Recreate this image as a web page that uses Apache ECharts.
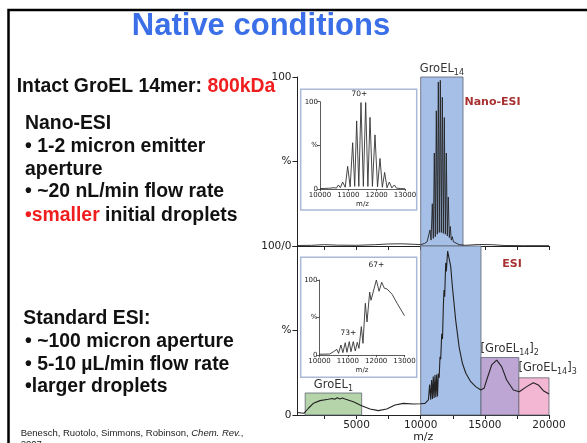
<!DOCTYPE html>
<html><head><meta charset="utf-8">
<script src="https://cdn.jsdelivr.net/npm/echarts@6/dist/echarts.min.js"></script>
<style>html,body{margin:0;padding:0;background:#fff}#c{width:587px;height:443px}</style>
</head><body><div id="c"></div>
<script>
// ---------- data (m/z, relative intensity %) ----------
const mzRange = [400, 20000];
const mainTickValues = [2500, 5000, 7500, 10000, 12500, 15000, 17500, 20000];
const mainLabelValues = [5000, 10000, 15000, 20000];
const insetRange = [10000, 13000];

const nanoMain = [
  [400,0.3],[1500,0.4],[2500,0.8],[3500,0.5],[5000,0.4],[6500,0.8],[7500,1.2],[8500,1.3],[9500,1.0],
  [10000,0.8],[10300,1.5],[10500,2.5],[10570,3],[10650,2.5],[10725,9.5],[10810,3.5],[10906,25],[10985,4.5],
  [11062,55],[11140,5.5],[11218,80],[11296,7],[11374,97],[11452,8],[11530,98],[11608,8],[11686,88],
  [11764,7.5],[11842,76],[11920,7],[11998,55],[12075,6],[12150,29],[12230,5],[12307,11.6],[12385,3.5],
  [12463,5.5],[12550,2.5],[12700,1.5],[13000,0.8],[13500,0.4],[14500,0.9],[15500,0.8],[16500,0.3],
  [18000,0.2],[20000,0.2]
];

const esiMain = [
  [400,1.5],[700,1.2],[900,1.0],[1250,4],[1650,7],[2150,8.5],[2800,9.3],[3100,9.8],[3300,9.3],[3500,10.2],
  [3700,9.5],[3900,10],[4100,9.5],[4750,7.9],[5400,5.5],[6050,3.6],[6700,2.6],[7350,3.6],[8000,5.9],
  [8650,6.9],[9430,6.5],[10000,6.7],[10335,6.9],[10600,8.9],[10700,18],[10780,9],[10850,20.7],[10920,9.5],
  [10980,22.7],[11050,10],[11115,23.7],[11180,10.5],[11245,24],[11310,11],[11375,24.6],[11440,22],
  [11505,34.5],[11560,33],[11640,48],[11700,45],[11765,64],[11816,74],[11870,70],[11950,90],[12000,85],
  [12100,97],[12150,95],[12200,96],[12340,87.8],[12470,76],[12730,56],[13000,40],[13250,30.6],[13520,24.7],
  [13900,19.7],[14290,16.8],[14680,14.8],[14940,15.8],[15143,20.7],[15532,29.6],[15922,32.5],[16312,28.6],
  [16701,20.7],[17221,14.8],[17688,13.8],[18260,16.8],[18779,19.1],[19169,17.8],[19558,14.4],[20000,12.4]
];

const nanoInset = [
  [10000,0.5],[10300,0.8],[10500,1.5],[10580,1],[10647,4.6],[10720,1.5],[10800,8],[10890,2],[10976,26],
  [11065,2.5],[11153,53],[11225,3],[11294,78],[11370,3],[11447,99],[11530,3],[11612,99],[11690,3],
  [11765,82],[11850,3],[11941,62],[12030,2.5],[12118,35],[12200,2],[12282,19],[12365,1.5],[12447,8],
  [12535,1.2],[12624,4.6],[12700,1],[12850,0.5],[13000,0.3]
];

const esiInset = [
  [10000,1],[10354,1.3],[10496,4.4],[10614,7.5],[10673,2.2],[10756,13.3],[10826,3.1],[10909,16.4],
  [10968,3.6],[11051,17.8],[11110,4.4],[11192,17.8],[11263,5.3],[11334,16.9],[11393,8.9],[11476,37.8],
  [11535,15.6],[11617,69],[11677,44],[11771,84],[11818,73],[12007,100],[12102,85],[12196,97],[12290,89],
  [12385,88],[12562,81],[12739,69],[12880,60],[13000,52.4]
];

// shaded regions: [m/z start, m/z end, top %]
const groel14TopRegion = [10000, 13300, 100];
const groel14Region = [10000, 14700, 100];
const groel1Region = [1000, 5400, 13];
const dimerRegion = [14700, 17650, 34];
const trimerRegion = [17650, 20000, 22];

// charge-state annotations: [label, m/z, %]
const nanoChargeLabels = [['70+', 11389, 100]];
const esiChargeLabels = [['67+', 12007, 100], ['73+', 11020, 18]];

// ---------- styling ----------
const ink = '#222';
const chartFont = 'DejaVu Sans';
const slideFont = 'Liberation Sans, Arial, sans-serif';
const subRich = {
  n: {fontSize: 11.5, fontFamily: chartFont, color: '#333', lineHeight: 16},
  s: {fontSize: 8, fontFamily: chartFont, color: '#333', lineHeight: 8, padding: [8, 0, 0, 0]}
};
const plain = v => String(v);

function area(r, color, label) {
  const first = {xAxis: r[0], yAxis: 0, itemStyle: {color: color, borderColor: '#5e6672', borderWidth: 0.8}};
  first.label = label ? label : {show: false};
  return [first, {xAxis: r[1], yAxis: r[2]}];
}
function subLabel(text, pos, dist) {
  const l = {show: true, formatter: text, rich: subRich};
  if (Array.isArray(pos)) { l.position = pos; l.align = 'left'; l.verticalAlign = 'top'; }
  else { l.position = pos; l.distance = dist; }
  return l;
}

function mainX(gi, showLabels) {
  return {
    type: 'value', gridIndex: gi, min: mzRange[0], max: mzRange[1],
    axisLine: {show: true, onZero: false, lineStyle: {color: ink, width: 1}},
    axisTick: {show: true, length: 4, customValues: mainTickValues, lineStyle: {color: ink}},
    axisLabel: {show: showLabels, customValues: mainLabelValues, color: ink, fontSize: 10.5, margin: 5,
      fontFamily: chartFont, formatter: plain},
    splitLine: {show: false},
    name: showLabels ? 'm/z' : '', nameLocation: 'middle', nameGap: 15,
    nameTextStyle: {color: ink, fontSize: 11, fontFamily: chartFont}
  };
}
function mainY(gi, labels) {
  return {
    type: 'value', gridIndex: gi, min: 0, max: 100, interval: 50,
    axisLine: {show: true, lineStyle: {color: ink, width: 1}},
    axisTick: {show: true, length: 5, lineStyle: {color: ink}},
    axisLabel: {color: ink, fontSize: 10.5, margin: 6, fontFamily: chartFont,
      formatter: v => labels[v / 50]},
    splitLine: {show: false}
  };
}
function insetX(gi) {
  return {
    type: 'value', gridIndex: gi, min: insetRange[0], max: insetRange[1], interval: 1000,
    axisLine: {show: true, onZero: false, lineStyle: {color: '#333', width: 0.8}},
    axisTick: {show: true, length: 2, lineStyle: {color: '#333', width: 0.8}},
    axisLabel: {color: ink, fontSize: 7, margin: 3, fontFamily: chartFont, formatter: plain},
    splitLine: {show: false},
    name: 'm/z', nameLocation: 'middle', nameGap: 12,
    nameTextStyle: {color: ink, fontSize: 7, fontFamily: chartFont}
  };
}
function insetY(gi) {
  return {
    type: 'value', gridIndex: gi, min: 0, max: 100, interval: 50,
    axisLine: {show: true, lineStyle: {color: '#333', width: 0.8}},
    axisTick: {show: true, length: 3, lineStyle: {color: '#333', width: 0.8}},
    axisLabel: {color: ink, fontSize: 7, margin: 2, fontFamily: chartFont,
      formatter: v => ['0', '%', '100'][v / 50]},
    splitLine: {show: false}
  };
}
function chargeMarks(list, dists) {
  return {
    symbol: 'circle', symbolSize: 0, silent: true,
    data: list.map((c, i) => ({coord: [c[1], c[2]], value: c[0],
      label: {show: true, formatter: c[0], position: 'top', distance: dists[i],
        color: ink, fontSize: 7.5, fontFamily: chartFont}}))
  };
}

function textEl(x, y, rich, text, align) {
  return {type: 'text', x: x, y: y, z: 10,
    style: {text: text, rich: rich, align: align || 'left', verticalAlign: 'middle'}};
}
const body = {fontSize: 19.4, fontWeight: 'bold', fontFamily: slideFont, fill: '#111'};
const red = {fontSize: 19.4, fontWeight: 'bold', fontFamily: slideFont, fill: '#f01e1e'};
const bodyRich = {k: body, r: red};
const citeRich = {
  k: {fontSize: 9.5, fontFamily: slideFont, fill: '#222'},
  i: {fontSize: 9.5, fontFamily: slideFont, fontStyle: 'italic', fill: '#222'}
};

const option = {
  animation: false,
  backgroundColor: '#fff',
  textStyle: {fontFamily: chartFont},
  grid: [
    {left: 297.5, top: 77, width: 251.5, height: 169, outerBoundsMode: 'none'},
    {left: 297.5, top: 246, width: 251.5, height: 169, outerBoundsMode: 'none'},
    {left: 320, top: 101.7, width: 85, height: 87.3, outerBoundsMode: 'none'},
    {left: 319.5, top: 280, width: 85, height: 75, outerBoundsMode: 'none'}
  ],
  xAxis: [mainX(0, false), mainX(1, true), insetX(2), insetX(3)],
  yAxis: [mainY(0, ['100/0', '%', '100']), mainY(1, ['0', '%', '']), insetY(2), insetY(3)],
  series: [
    {type: 'line', xAxisIndex: 0, yAxisIndex: 0, data: nanoMain, showSymbol: false, z: 3,
      lineStyle: {color: ink, width: 0.9},
      markArea: {silent: true, z: 1, data: [
        area(groel14TopRegion, '#a6bfe6', subLabel('{n|GroEL}{s|14}', 'top', 0))
      ]}},
    {type: 'line', xAxisIndex: 1, yAxisIndex: 1, data: esiMain, showSymbol: false, z: 3,
      lineStyle: {color: ink, width: 1.1},
      markArea: {silent: true, z: 1, data: [
        area(groel14Region, '#a6bfe6', null),
        area(groel1Region, '#b6d4aa', subLabel('{n|GroEL}{s|1}', 'top', 0)),
        area(dimerRegion, '#bea6d4', subLabel('{n|[GroEL}{s|14}{n|]}{s|2}', [0, -16])),
        area(trimerRegion, '#f4b7d3', subLabel('{n|[GroEL}{s|14}{n|]}{s|3}', [0, -17]))
      ]}},
    {type: 'line', xAxisIndex: 2, yAxisIndex: 2, data: nanoInset, showSymbol: false, z: 3,
      lineStyle: {color: '#333', width: 0.9},
      markPoint: chargeMarks(nanoChargeLabels, [4])},
    {type: 'line', xAxisIndex: 3, yAxisIndex: 3, data: esiInset, showSymbol: false, z: 3,
      lineStyle: {color: '#333', width: 0.9},
      markPoint: chargeMarks(esiChargeLabels, [11, 4])}
  ],
  graphic: [
    {type: 'rect', z: 0, shape: {x: 8.5, y: 10, width: 700, height: 700},
      style: {fill: 'none', stroke: '#000', lineWidth: 2.5}},
    {type: 'rect', z: 5, shape: {x: 300.7, y: 89.3, width: 116, height: 120.7},
      style: {fill: 'none', stroke: '#aab9d8', lineWidth: 1.5}},
    {type: 'rect', z: 5, shape: {x: 300.7, y: 257.3, width: 116, height: 120},
      style: {fill: 'none', stroke: '#aab9d8', lineWidth: 1.5}},
    {type: 'text', x: 261, y: 26.5, z: 10, style: {text: 'Native conditions', align: 'center', verticalAlign: 'middle',
      fontSize: 31, fontWeight: 'bold', fontFamily: slideFont, fill: '#3b6fe8'}},
    textEl(16.7, 87, bodyRich, '{k|Intact GroEL 14mer: }{r|800kDa}'),
    textEl(25, 123.3, bodyRich, '{k|Nano-ESI}'),
    textEl(25, 147, bodyRich, '{k|• 1-2 micron emitter}'),
    textEl(25, 169.5, bodyRich, '{k|aperture}'),
    textEl(25, 192, bodyRich, '{k|• ~20 nL/min flow rate}'),
    textEl(25, 216, bodyRich, '{r|•smaller}{k| initial droplets}'),
    textEl(23.3, 319, bodyRich, '{k|Standard ESI:}'),
    textEl(25, 342, bodyRich, '{k|• ~100 micron aperture}'),
    textEl(25, 364.5, bodyRich, '{k|• 5-10 µL/min flow rate}'),
    textEl(25, 387, bodyRich, '{k|•larger droplets}'),
    textEl(20.7, 433.7, citeRich, '{k|Benesch, Ruotolo, Simmons, Robinson, }{i|Chem. Rev.}{k|,}'),
    textEl(20.7, 444, citeRich, '{k|2007}'),
    {type: 'text', x: 492.5, y: 101.7, z: 10, style: {text: 'Nano-ESI', align: 'center', verticalAlign: 'middle',
      fontSize: 11, fontWeight: 'bold', fontFamily: chartFont, fill: '#a83232'}},
    {type: 'text', x: 512, y: 264, z: 10, style: {text: 'ESI', align: 'center', verticalAlign: 'middle',
      fontSize: 11, fontWeight: 'bold', fontFamily: chartFont, fill: '#a83232'}}
  ]
};
const chart = echarts.init(document.getElementById('c'));
chart.setOption(option);
</script>
</body></html>
